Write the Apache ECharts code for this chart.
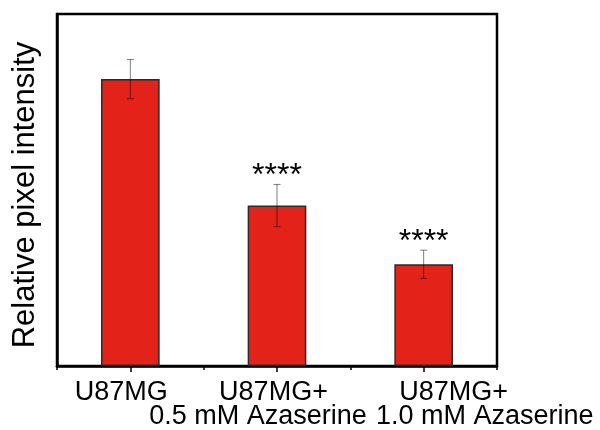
<!DOCTYPE html>
<html>
<head>
<meta charset="utf-8">
<script src="https://cdn.jsdelivr.net/npm/echarts@6/dist/echarts.min.js"></script>
<style>
  html, body { margin: 0; padding: 0; background: #fff; }
  #chart { width: 600px; height: 430px; }
</style>
</head>
<body>
<div id="chart"></div>
<script>
// Relative pixel intensity per condition (mean ± error)
const categories = ['U87MG', 'U87MG+\n0.5 mM Azaserine', 'U87MG+\n1.0 mM Azaserine'];
const values = [0.978, 0.547, 0.347];
const errors = [0.067, 0.072, 0.048];
const significance = ['', '****', '****'];

const FONT = '"Liberation Sans", Arial, Helvetica, sans-serif';
const BAR_COLOR = '#e32219';

// per-label line styles: horizontal nudges via padding
const labelRich = {
  a0: { padding: [0, 18, 0, 0] },
  a1: { padding: [0, 7, 0, 0] },
  b1: { padding: [0, 38, 0, 0] },
  a2: { padding: [0, 0, 0, 60] },
  b2: { padding: [0, 0, 0, 122] }
};
Object.keys(labelRich).forEach(k => Object.assign(labelRich[k], {
  fontSize: 27, lineHeight: 24, color: '#000', fontFamily: FONT, align: 'center'
}));

const chart = echarts.init(document.getElementById('chart'), null, { renderer: 'canvas' });

chart.setOption({
  animation: false,
  backgroundColor: '#fff',
  grid: {
    left: 57, right: 103, top: 14, bottom: 63,
    show: true, borderColor: '#000', borderWidth: 2.5
  },
  xAxis: [
    {
      type: 'category',
      data: categories,
      position: 'bottom',
      axisLine: { show: true, lineStyle: { color: '#000', width: 2.5 } },
      axisTick: { show: true, alignWithLabel: false, length: 4, lineStyle: { color: '#000', width: 1.5 } },
      axisLabel: {
        margin: 14.5,
        interval: 0,
        formatter: (value, index) => value.split('\n')
          .map((line, j) => `{${j === 0 ? 'a' : 'b'}${index}|${line}}`).join('\n'),
        rich: labelRich
      },
      splitLine: { show: false }
    },
    {
      type: 'category',
      data: categories,
      position: 'bottom',
      axisLine: { show: false },
      axisTick: { show: true, alignWithLabel: true, length: 6, lineStyle: { color: '#000', width: 1.5 } },
      axisLabel: { show: false },
      splitLine: { show: false }
    }
  ],
  yAxis: {
    type: 'value',
    min: 0,
    max: 1.2,
    name: 'Relative pixel intensity',
    nameLocation: 'middle',
    nameGap: 16,
    nameTextStyle: { fontSize: 31, color: '#000', fontFamily: FONT, padding: [0, 10, 0, 0] },
    axisLine: { show: true, lineStyle: { color: '#000', width: 2.5 } },
    axisTick: { show: false },
    axisLabel: { show: false },
    splitLine: { show: false }
  },
  series: [
    {
      type: 'bar',
      data: values,
      barWidth: '40%',
      itemStyle: { color: BAR_COLOR, borderColor: '#2a2a2a', borderWidth: 1.5 }
    },
    {
      type: 'custom',
      data: categories.map((c, i) => [i, values[i], errors[i]]),
      encode: { x: 0, y: 1 },
      z: 5,
      renderItem: (params, api) => {
        const i = api.value(0);
        const v = api.value(1);
        const e = api.value(2);
        const top = api.coord([i, v + e]);
        const bot = api.coord([i, v - e]);
        const hw = 3.5;
        const stroke = { stroke: 'rgba(0,0,0,0.5)', lineWidth: 1 };
        const children = [
          { type: 'line', shape: { x1: top[0], y1: top[1], x2: bot[0], y2: bot[1] }, style: stroke },
          { type: 'line', shape: { x1: top[0] - hw, y1: top[1], x2: top[0] + hw, y2: top[1] }, style: stroke },
          { type: 'line', shape: { x1: bot[0] - hw, y1: bot[1], x2: bot[0] + hw, y2: bot[1] }, style: stroke }
        ];
        const sig = significance[params.dataIndex];
        if (sig) {
          children.push({
            type: 'text',
            style: {
              text: sig, x: top[0], y: top[1] - 8,
              align: 'center', verticalAlign: 'middle',
              fontSize: 32, fontFamily: FONT, fill: '#000'
            }
          });
        }
        return { type: 'group', children };
      }
    }
  ]
});
</script>
</body>
</html>
